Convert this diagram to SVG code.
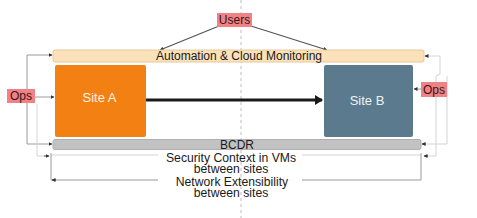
<svg xmlns="http://www.w3.org/2000/svg" width="477" height="218" viewBox="0 0 477 218">
<style>
text{font-family:"Liberation Sans",Arial,sans-serif;font-size:12px;text-anchor:middle;dominant-baseline:central}
.lbl{fill:#f08286}
.lt{fill:#3a1414}
.thin{fill:none;stroke:#9a9a9a;stroke-width:1}
.faint{fill:none;stroke:#d4d4d4;stroke-width:1}
.sub{font-size:12.2px;fill:#1a1a1a}
</style>
<defs>
<marker id="sm" markerWidth="4" markerHeight="4" refX="3.5" refY="2" orient="auto" markerUnits="userSpaceOnUse"><path d="M0,0 L4,2 L0,4 Z" fill="#333"/></marker>
<marker id="big" markerWidth="8" markerHeight="10" refX="7" refY="5" orient="auto" markerUnits="userSpaceOnUse"><path d="M0,0 L8,5 L0,10 Z" fill="#1a1a1a"/></marker>
</defs>
<rect width="477" height="218" fill="#fff"/>
<line x1="241" y1="0" x2="241" y2="218" stroke="#bdbdbd" stroke-dasharray="3,3"/>
<g id="connectors">
<line x1="219" y1="26" x2="160" y2="50" stroke="#555" stroke-width="1.2" marker-end="url(#sm)"/>
<line x1="251" y1="26" x2="327" y2="50" stroke="#555" stroke-width="1.2" marker-end="url(#sm)"/>
<line x1="146" y1="100" x2="322" y2="100" stroke="#1a1a1a" stroke-width="3" marker-end="url(#big)"/>
<polyline class="thin" points="52,55 27,55 27,144 52,144" marker-end="url(#sm)"/>
<line x1="52" y1="55" x2="52.1" y2="55" stroke="#333" marker-end="url(#sm)"/>
<line class="thin" x1="35" y1="97" x2="54" y2="97" marker-end="url(#sm)"/>
<polyline class="faint" points="37,104 37,156 48,156" />
<line x1="44" y1="156" x2="49" y2="156" stroke="#555" marker-end="url(#sm)"/>
<polyline class="faint" points="425,56 440,56 440,74 436,76 436,156 425,156"/>
<line x1="428" y1="56" x2="425" y2="56" stroke="#555" marker-end="url(#sm)"/>
<line x1="428" y1="156" x2="424" y2="156" stroke="#555" marker-end="url(#sm)"/>
<polyline class="faint" points="447,76 447,144 422,144"/>
<line x1="426" y1="144" x2="422" y2="144" stroke="#555" marker-end="url(#sm)"/>
<line class="thin" x1="421" y1="89" x2="414" y2="89" marker-end="url(#sm)"/>
<polyline class="faint" points="158,155 51,155"/>
<polyline class="thin" points="51,153 51,180 158,180"/>
<line x1="56" y1="180" x2="52" y2="180" stroke="#555" marker-end="url(#sm)"/>
<polyline class="faint" points="302,155 421,155"/>
<polyline class="thin" points="302,180 421,180 421,153"/>
</g>
<g id="automation">
<rect x="53" y="50" width="371" height="12" rx="2" fill="#fbe2bb" stroke="#e8c898"/>
<text x="239" y="56" fill="#1a1a1a">Automation &amp; Cloud Monitoring</text>
</g>
<g id="siteA">
<rect x="55" y="65" width="91" height="72" rx="2" fill="#f28013"/>
<text x="99.5" y="97" fill="#fff3e6" style="font-size:13px">Site A</text>
</g>
<g id="siteB">
<rect x="324" y="65" width="89" height="72" rx="2" fill="#5b7a8d"/>
<text x="367" y="100" fill="#eef2f5" style="font-size:13px">Site B</text>
</g>
<g id="bcdr">
<rect x="53" y="139.5" width="368" height="10" rx="2" fill="#c2c2c2" stroke="#b0b0b0"/>
<text x="237" y="145" fill="#1a1a1a">BCDR</text>
</g>
<g id="security">
<text class="sub" x="231" y="158">Security Context in VMs</text>
<text class="sub" x="231" y="169">between sites</text>
</g>
<g id="network">
<text class="sub" x="232" y="181.5">Network Extensibility</text>
<text class="sub" x="231" y="192.5">between sites</text>
</g>
<g id="users">
<rect class="lbl" x="217" y="13" width="35" height="14"/>
<text class="lt" x="234.5" y="20">Users</text>
</g>
<g id="opsLeft">
<rect class="lbl" x="7" y="89" width="28" height="14"/>
<text class="lt" x="21" y="96">Ops</text>
</g>
<g id="opsRight">
<rect class="lbl" x="421" y="82" width="26" height="15"/>
<text class="lt" x="434" y="89.5">Ops</text>
</g>
</svg>
